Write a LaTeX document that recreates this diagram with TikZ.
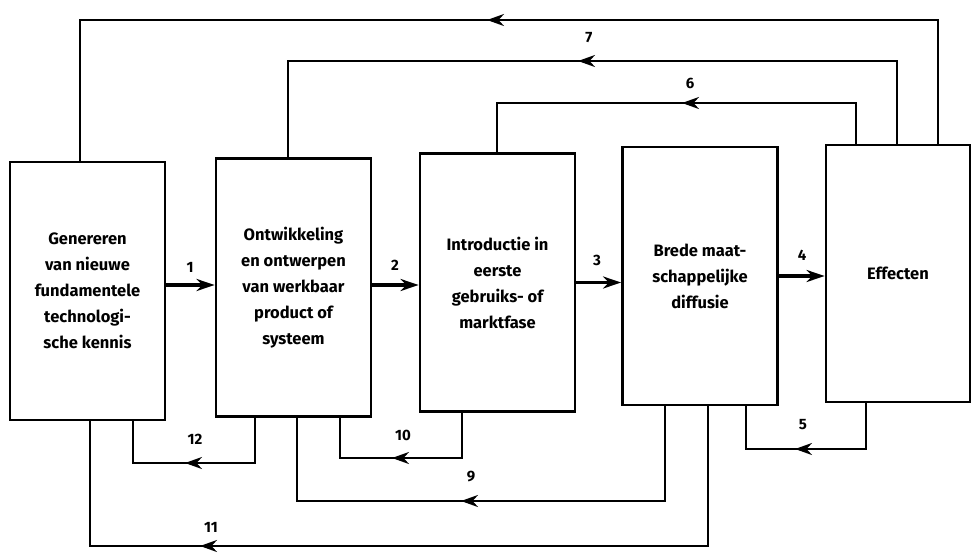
\documentclass[tikz,border=0pt]{standalone}
\usepackage{fontspec}
\setmainfont{Fira Sans}
\usetikzlibrary{arrows.meta,calc}
\tikzset{
  box/.style={draw, line width=2.8pt, minimum width=155pt, minimum height=258pt,
    align=center, inner sep=0pt, font=\fontsize{16.5}{26}\selectfont\bfseries},
  fb/.style={line width=2.4pt},
  mainarrow/.style={line width=3.6pt, -{Stealth[length=18pt,width=12pt]}},
  fbtip/.style={line width=2.4pt, -{Stealth[length=17pt,width=12pt]}},
  num/.style={font=\fontsize{15}{15}\selectfont\bfseries, inner sep=1pt}
}
\begin{document}
\begin{tikzpicture}[x=1pt,y=-1pt]
\useasboundingbox (0,0) rectangle (972,555);
\fill[white] (0,0) rectangle (972,555);

% boxes
\node[box] (b1) at (87.5,291) {Genereren\\van nieuwe\\fundamentele\\technologi-\\sche kennis};
\node[box] (b2) at (293.5,287.5) {Ontwikkeling\\en ontwerpen\\van werkbaar\\product of\\systeem};
\node[box] (b3) at (497.5,282.5) {Introductie in\\eerste\\gebruiks- of\\marktfase};
\node[box] (b4) at (700,276) {Brede maat-\\schappelijke\\diffusie};
\node[box, minimum width=144pt, minimum height=257pt] (b5) at (898,273.5) {Effecten};

% main arrows
\draw[mainarrow] ([yshift=6pt]b1.east) -- ([yshift=6pt]b1.east -| b2.west);
\draw[mainarrow] ([yshift=2.5pt]b2.east) -- ([yshift=2.5pt]b2.east -| b3.west);
\draw[mainarrow] (b3.east) -- (b3.east -| b4.west);
\draw[mainarrow] (b4.east) -- (b4.east -| b5.west);
\node[num] (n1) at (190,267) {1};
\node[num] (n2) at (395,265) {2};
\node[num] (n3) at (597,260) {3};
\node[num] (n4) at (802,255) {4};

% top feedback loops
\coordinate (L8r) at (938,20); \coordinate (L8l) at (80,20); \coordinate (T8) at (487,20);
\draw[fb] (b5.north -| L8r) -- (L8r) -- (L8l) -- (b1.north -| L8l);
\draw[fbtip] (L8r) -- (T8);

\coordinate (L7r) at (897,61); \coordinate (L7l) at (288,61); \coordinate (T7) at (578,61);
\draw[fb] (b5.north -| L7r) -- (L7r) -- (L7l) -- (b2.north -| L7l);
\draw[fbtip] (L7r) -- (T7);
\node[num] (n7) at (589,38) {7};

\coordinate (L6r) at (856,103); \coordinate (L6l) at (497,103); \coordinate (T6) at (682,103);
\draw[fb] (b5.north -| L6r) -- (L6r) -- (L6l) -- (b3.north -| L6l);
\draw[fbtip] (L6r) -- (T6);
\node[num] (n6) at (690,83) {6};

% bottom feedback loops
\coordinate (L12r) at (255,463); \coordinate (L12l) at (133,463); \coordinate (T12) at (185,463);
\draw[fb] (b2.south -| L12r) -- (L12r) -- (L12l) -- (b1.south -| L12l);
\draw[fbtip] (L12r) -- (T12);
\node[num] (n12) at (195,439) {12};

\coordinate (L10r) at (462,458); \coordinate (L10l) at (340,458); \coordinate (T10) at (392,458);
\draw[fb] (b3.south -| L10r) -- (L10r) -- (L10l) -- (b2.south -| L10l);
\draw[fbtip] (L10r) -- (T10);
\node[num] (n10) at (403,435) {10};

\coordinate (L9r) at (665,501); \coordinate (L9l) at (297,501); \coordinate (T9) at (461,501);
\draw[fb] (b4.south -| L9r) -- (L9r) -- (L9l) -- (b2.south -| L9l);
\draw[fbtip] (L9r) -- (T9);
\node[num] (n9) at (471,477) {9};

\coordinate (L11r) at (708,546); \coordinate (L11l) at (90,546); \coordinate (T11) at (200,546);
\draw[fb] (b4.south -| L11r) -- (L11r) -- (L11l) -- (b1.south -| L11l);
\draw[fbtip] (L11r) -- (T11);
\node[num] (n11) at (211,527) {11};

\coordinate (L5r) at (866,449); \coordinate (L5l) at (746,449); \coordinate (T5) at (795,449);
\draw[fb] (b5.south -| L5r) -- (L5r) -- (L5l) -- (b4.south -| L5l);
\draw[fbtip] (L5r) -- (T5);
\node[num] (n5) at (803,425) {5};
\end{tikzpicture}
\end{document}
